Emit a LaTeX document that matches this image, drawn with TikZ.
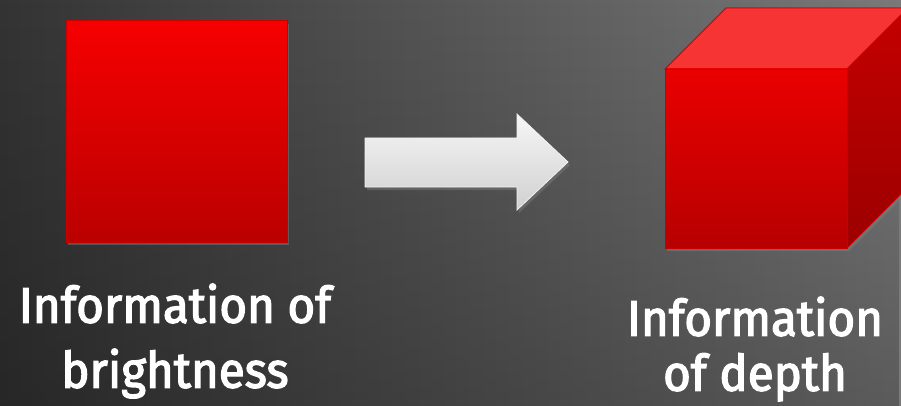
\documentclass[tikz,border=0pt]{standalone}
\usepackage{fontspec}
\setmainfont{Fira Sans}[FakeStretch=0.96]
\newfontfamily\captionfont{Fira Sans}[FakeStretch=0.95, FakeBold=2.6]
\usepackage{tikz}
\usetikzlibrary{positioning, shadows, fadings}
\definecolor{bgdark}{RGB}{52,52,52}
\definecolor{bglight}{RGB}{122,122,122}
\definecolor{redtop}{RGB}{246,0,0}
\definecolor{redbot}{RGB}{186,0,0}
\definecolor{redline}{RGB}{200,0,0}
\definecolor{cubetop}{RGB}{246,52,52}
\definecolor{sidetop}{RGB}{196,0,0}
\definecolor{sidebot}{RGB}{156,0,0}
\definecolor{arrowtop}{RGB}{246,246,246}
\definecolor{arrowbot}{RGB}{208,208,208}

\tikzset{
  shadowed/.style={drop shadow={opacity=0.45, shadow xshift=2pt, shadow yshift=-3pt}},
  caption/.style={text=white, align=center, inner sep=0pt,
    font=\captionfont\fontsize{50}{65}\selectfont}
}

\begin{document}
\begin{tikzpicture}[x=1pt, y=-1pt]
  \useasboundingbox (0,0) rectangle (901,406);
  \clip (0,0) rectangle (901,406);
  \shade[left color=bgdark, right color=bglight] (0,0) rectangle (901,406);
  \fill[black, opacity=0.25, path fading=north] (0,0) rectangle (901,406);

  % flat square
  \shade[shadowed, top color=redtop, bottom color=redbot, draw=redline, line width=1pt]
    (66,21) rectangle (287,242);

  % arrow
  \shade[shadowed, top color=arrowtop, bottom color=arrowbot, draw=white!90!gray, line width=0.8pt]
    (365,138) -- (517,138) -- (517,114) -- (568,162) -- (517,210) -- (517,187) -- (365,187) -- cycle;

  % cube
  \fill[shadowed, black] (665,69) -- (726,8) -- (908,8) -- (908,187) -- (847,248) -- (665,248) -- cycle;
  \fill[cubetop, draw=redline, line width=0.8pt] (665,69) -- (726,8) -- (908,8) -- (847,69) -- cycle;
  \shade[top color=sidetop, bottom color=sidebot, draw=redline, line width=0.8pt]
    (847,69) -- (908,8) -- (908,187) -- (847,248) -- cycle;
  \shade[top color=redtop!95!black, bottom color=redbot!105, draw=redline, line width=0.8pt]
    (665,69) rectangle (847,248);

  \node[caption] (brightness) at (175,341) {Information of\\brightness};
  \node[caption] (depth) at (755,349) {Information\\[-10pt]of depth};
\end{tikzpicture}
\end{document}
